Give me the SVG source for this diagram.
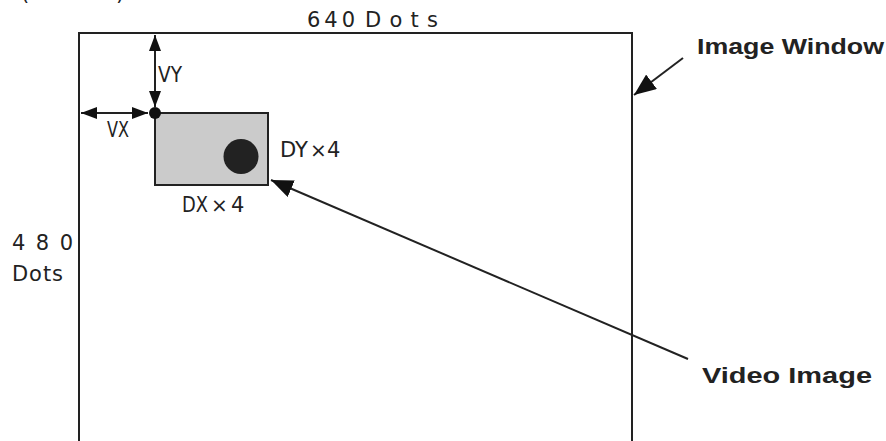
<svg xmlns="http://www.w3.org/2000/svg" width="886" height="441" viewBox="0 0 886 441">
<style>
.lbl{font-family:"DejaVu Sans","Liberation Sans",sans-serif;fill:#222;font-size:21px}
.bold{font-family:"Liberation Sans",Arial,sans-serif;fill:#222;font-size:22px;font-weight:bold}
.ln{stroke:#222;stroke-width:2;fill:none}
.x{font-size:20px}
</style>
<defs>
<marker id="dim" markerUnits="userSpaceOnUse" viewBox="0 0 16 12" markerWidth="16" markerHeight="12" refX="16" refY="6" orient="auto-start-reverse">
<path d="M0,0 L16,6 L0,12 z" fill="#111"/>
</marker>
<marker id="call" markerUnits="userSpaceOnUse" viewBox="0 0 22 18" markerWidth="22" markerHeight="18" refX="22" refY="9" orient="auto">
<path d="M0,0 L22,9 L0,18 z" fill="#111"/>
</marker>
</defs>
<text class="lbl" x="21" y="0" font-size="20">(</text>
<text class="lbl" x="116" y="0" font-size="20">)</text>
<g id="image-window">
<path class="ln" d="M79,441 V33 H632 V441"/>
</g>
<g id="video-image">
<rect x="155" y="113" width="113" height="72" fill="#cbcbcb" stroke="#222" stroke-width="2"/>
<circle cx="241" cy="156.5" r="17.5" fill="#222"/>
</g>
<g id="origin">
<circle cx="155" cy="113" r="6" fill="#111"/>
</g>
<g id="connectors">
<path class="ln" d="M155,35 V107" marker-start="url(#dim)" marker-end="url(#dim)"/>
<path class="ln" d="M81,113 H148" marker-start="url(#dim)" marker-end="url(#dim)"/>
<line class="ln" x1="683" y1="58" x2="634" y2="95" marker-end="url(#call)"/>
<line class="ln" x1="688" y1="359" x2="271" y2="180" marker-end="url(#call)"/>
</g>
<g id="labels">
<text class="lbl" x="307" y="27" font-size="20"><tspan textLength="48" lengthAdjust="spacing">640</tspan><tspan x="365" font-size="21" textLength="73" lengthAdjust="spacing">Dots</tspan></text>
<text class="lbl" x="158" y="82" font-size="22" textLength="24" lengthAdjust="spacingAndGlyphs">VY</text>
<text class="lbl" x="107" y="137" font-size="22" textLength="22" lengthAdjust="spacingAndGlyphs">VX</text>
<text class="lbl" x="280" y="157" font-size="20"><tspan textLength="28" lengthAdjust="spacingAndGlyphs">DY</tspan><tspan x="310" class="x">×</tspan><tspan x="327">4</tspan></text>
<text class="lbl" x="182" y="212" font-size="20"><tspan textLength="26" lengthAdjust="spacingAndGlyphs">DX</tspan><tspan x="211" class="x">×</tspan><tspan x="231">4</tspan></text>
<text class="lbl" x="12" y="250" font-size="20" textLength="61" lengthAdjust="spacing">480</text>
<text class="lbl" x="12" y="281" font-size="21" textLength="51" lengthAdjust="spacing">Dots</text>
<text class="bold" x="697" y="54" textLength="187" lengthAdjust="spacingAndGlyphs">Image Window</text>
<text class="bold" x="702" y="383" textLength="170" lengthAdjust="spacingAndGlyphs">Video Image</text>
</g>
</svg>
